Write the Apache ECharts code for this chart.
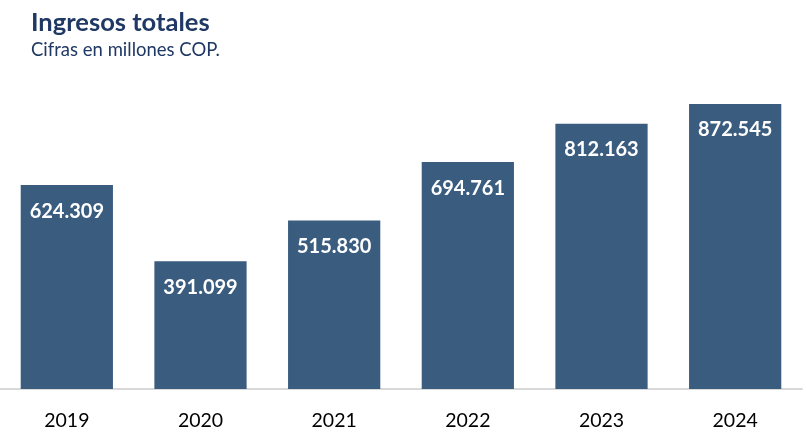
<!DOCTYPE html>
<html><head><meta charset="utf-8">
<script src="https://cdn.jsdelivr.net/npm/echarts@6/dist/echarts.min.js"></script>
<style>html,body{margin:0;padding:0;background:#fff}#c{width:806px;height:442px}</style>
</head><body><div id="c"></div>
<script>
const categories = ['2019','2020','2021','2022','2023','2024'];
const values = [624309, 391099, 515830, 694761, 812163, 872545];
const titleText = 'Ingresos totales';
const subtitleText = 'Cifras en millones COP.';

function fmt(v){ return String(v).replace(/\B(?=(\d{3})+(?!\d))/g, '.'); }

const chart = echarts.init(document.getElementById('c'));
chart.setOption({
  animation: false,
  title: {
    text: titleText, subtext: subtitleText, left: 26, top: 5, itemGap: 5,
    textStyle: {fontFamily: 'Lato', fontWeight: 'bold', fontSize: 25.5, color: '#1f3864'},
    subtextStyle: {fontFamily: 'Lato', fontSize: 18.5, color: '#1f3864'}
  },
  grid: {left: 0, right: 4, top: 62.4, bottom: 53},
  xAxis: {
    type: 'category', data: categories,
    axisLine: {lineStyle: {color: '#d9d9d9', width: 2}},
    axisTick: {show: false},
    axisLabel: {fontFamily: 'Lato', fontSize: 19.5, color: '#000', margin: 22}
  },
  yAxis: {type: 'value', min: 0, max: 1000000, show: false, splitLine: {show: false}},
  series: [{
    type: 'bar', data: values, barCategoryGap: '31%',
    itemStyle: {color: '#3a5c7f'},
    label: {show: true, position: 'insideTop', distance: 16, formatter: p => fmt(p.value),
      fontFamily: 'Lato', fontWeight: 'bold', fontSize: 20, color: '#fff'}
  }]
});
</script></body></html>
